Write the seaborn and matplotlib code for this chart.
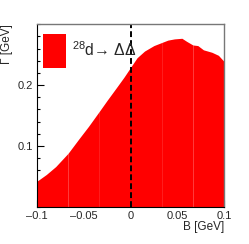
import numpy as np
import seaborn as sns
import matplotlib.pyplot as plt
from matplotlib.ticker import MultipleLocator, FuncFormatter

# width of the 28d -> Delta Delta channel vs binding energy
B_vals = [-0.1, -0.09, -0.08, -0.0667, -0.055, -0.045, -0.0333, -0.025, -0.015,
          -0.007, 0.0, 0.007, 0.015, 0.025, 0.0333, 0.04, 0.047, 0.055, 0.06,
          0.0667, 0.072, 0.078, 0.087, 0.094, 0.1]
Gamma_vals = [0.042, 0.053, 0.066, 0.088, 0.112, 0.132, 0.157, 0.175, 0.196,
              0.213, 0.229, 0.245, 0.256, 0.265, 0.270, 0.274, 0.276, 0.277,
              0.272, 0.266, 0.265, 0.258, 0.254, 0.249, 0.239]
# indices where the filled histogram pieces join
seg_edges = [0, 3, 6, 10, 14, 19, 24]
legend_label = '$^{28}$d\u2192 ΔΔ'

sns.set_style('ticks')
plt.rcParams['font.family'] = ['Liberation Sans', 'DejaVu Sans']
plt.rcParams['mathtext.fontset'] = 'custom'
plt.rcParams['mathtext.rm'] = 'Liberation Sans'

B = np.array(B_vals)
G = np.array(Gamma_vals)

fig = plt.figure(figsize=(2.49, 2.44), dpi=100)
ax = fig.add_axes([0.1486, 0.1529, 0.751, 0.7475])

for k in range(len(seg_edges) - 1):
    i0, i1 = seg_edges[k], seg_edges[k + 1] + 1
    ax.fill_between(B[i0:i1], 0, G[i0:i1], color='#ff0000', lw=0,
                    label=legend_label if k == 0 else None)

ax.axvline(0, color='black', lw=1.4, ls=(0, (3, 1.6)))

ax.set_xlim(-0.1, 0.1)
ax.set_ylim(0, 0.3)
ax.xaxis.set_major_locator(MultipleLocator(0.05))
ax.xaxis.set_minor_locator(MultipleLocator(0.01))
ax.yaxis.set_major_locator(MultipleLocator(0.1))
ax.yaxis.set_minor_locator(MultipleLocator(0.02))
ax.xaxis.set_major_formatter(FuncFormatter(lambda v, p: '0' if abs(v) < 1e-9 else f'{v:g}'.replace('-', '\u2013')))
ax.yaxis.set_major_formatter(FuncFormatter(lambda v, p: f'{v:g}'))
ax.set_yticks([0.1, 0.2])

ax.tick_params(which='both', direction='in', color='black', labelsize=8, pad=3)
ax.tick_params(which='major', length=5, width=0.8)
ax.tick_params(which='minor', length=2.5, width=0.8)

for side in ['left', 'bottom']:
    ax.spines[side].set_color('black')
    ax.spines[side].set_linewidth(0.8)
for side in ['top', 'right']:
    ax.spines[side].set_color('#777777')
    ax.spines[side].set_linewidth(1.0)

ax.set_xlabel('B [GeV]', loc='right', fontsize=8.5, labelpad=0)
ax.set_ylabel('Γ [GeV]', loc='top', fontsize=8.5, labelpad=3)

ax.legend(loc='upper left', bbox_to_anchor=(0.03, 0.947), frameon=False,
          borderpad=0, borderaxespad=0, handlelength=1.5, handleheight=2.95,
          handletextpad=0.35, fontsize=11.3)

fig.savefig('out.png', dpi=100)
